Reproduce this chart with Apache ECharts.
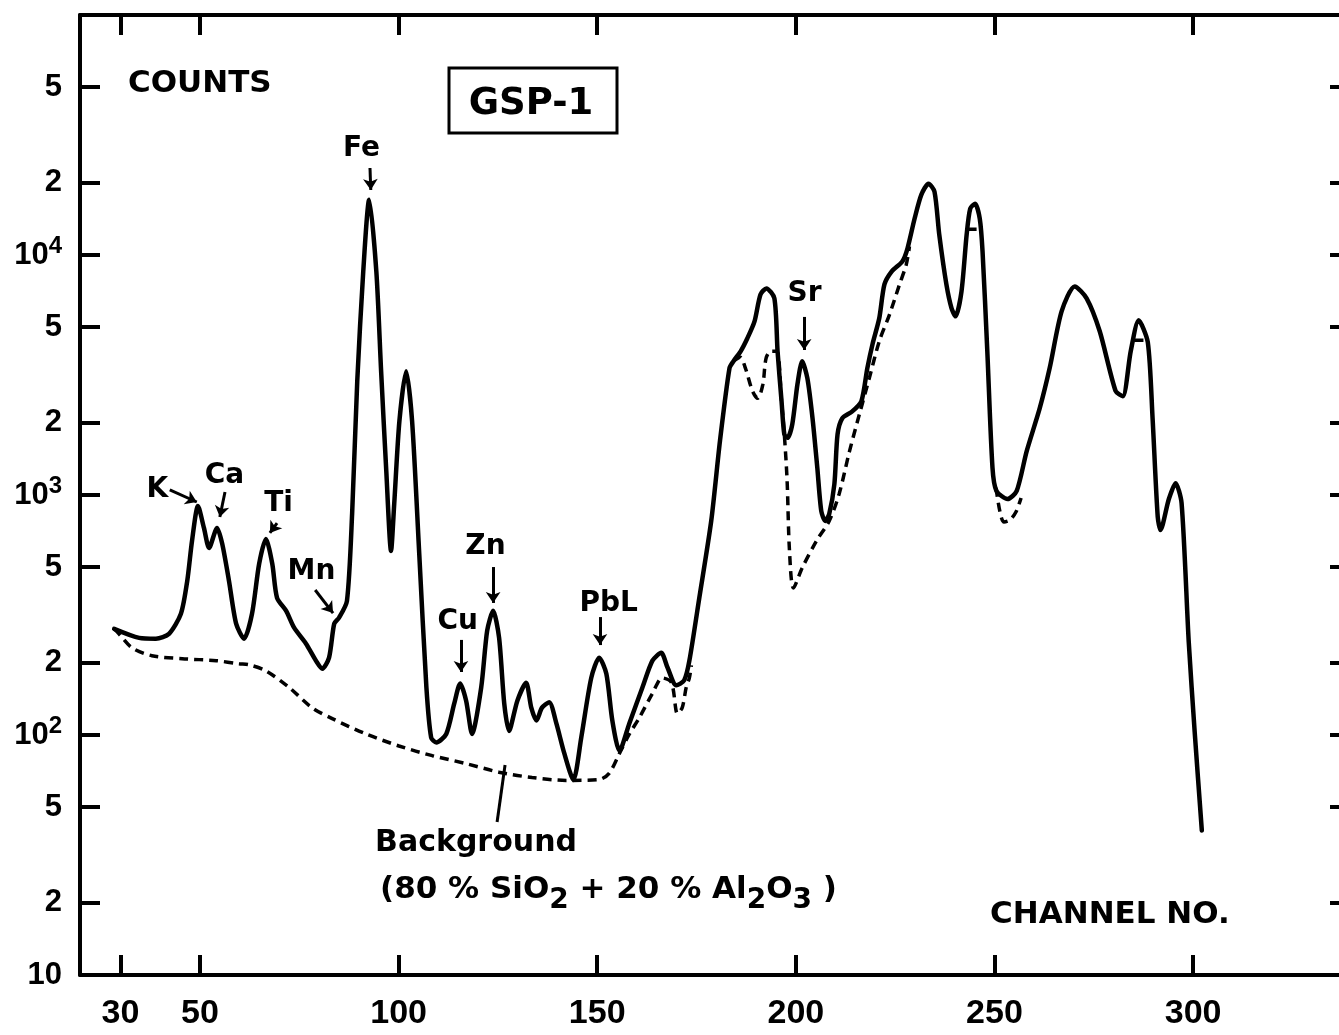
<!DOCTYPE html>
<html>
<head>
<meta charset="utf-8">
<title>GSP-1 X-ray fluorescence spectrum</title>
<script src="https://cdn.jsdelivr.net/npm/echarts@6/dist/echarts.min.js"></script>
<style>
  html, body { margin: 0; padding: 0; background: #fff; }
  #chart { width: 1339px; height: 1035px; }
</style>
</head>
<body>
<div id="chart"></div>
<script>
// Channel ticks (bottom and top edges)
const xTicks = [30, 50, 100, 150, 200, 250, 300];
// Count ticks on the log axis and the printed labels ("^" marks a power of ten)
const yTicks = [10, 20, 50, 100, 200, 500, 1000, 2000, 5000, 10000, 20000, 50000];
const yTickText = ['10', '2', '5', '10^2', '2', '5', '10^3', '2', '5', '10^4', '2', '5'];

// Measured spectrum of GSP-1: [channel, counts]
const spectrum = [
  [28.4, 277], [34.7, 254], [38.9, 252], [42.2, 264], [45.2, 320], [46.8, 439],
  [48.0, 644], [49.5, 900], [51.0, 729], [52.3, 602], [54.3, 729], [55.6, 626],
  [57.3, 439], [59.1, 291], [61.1, 252], [63.1, 320], [64.9, 517], [66.6, 656],
  [68.2, 517], [69.4, 373], [71.7, 329], [73.7, 280], [76.7, 240], [79.2, 204],
  [80.8, 189], [82.5, 210], [83.8, 291], [85.0, 308], [87.0, 362], [88.3, 834],
  [89.6, 3000], [91.1, 8530], [92.6, 17000], [94.4, 8530], [95.6, 3280], [96.9, 1260],
  [98.1, 585], [98.9, 918], [100.2, 2030], [101.9, 3280], [103.4, 2030], [105.2, 568],
  [107.0, 158], [108.2, 97.6], [109.5, 93.1], [112.0, 101], [114.0, 135],
  [115.5, 164], [117.0, 139], [118.5, 101], [120.8, 158], [122.3, 272], [123.8, 329],
  [125.3, 254], [126.6, 135], [127.8, 104], [129.9, 139], [132.1, 165], [133.4, 130],
  [134.7, 115], [136.1, 130], [137.9, 137], [139.7, 112], [141.7, 84], [144.0, 65],
  [146.0, 98], [148.5, 173], [150.5, 210], [152.3, 180], [153.8, 115], [155.6, 86],
  [158.1, 112], [161.4, 158], [163.9, 204], [166.1, 220], [167.7, 191], [169.9, 161],
  [171.9, 169], [173.2, 204], [175.7, 373], [178.7, 780], [180.9, 1680], [183.3, 3380],
  [184.3, 3610], [186.1, 3970], [187.8, 4500], [189.6, 5290], [191.1, 6850], [192.6, 7260],
  [194.6, 6600], [195.4, 3970], [196.4, 2460], [197.1, 1790], [197.9, 1730], [199.1, 1970],
  [200.4, 2890], [201.6, 3610], [202.9, 3070], [204.2, 2090], [205.4, 1300], [206.4, 858],
  [207.4, 780], [208.4, 834], [209.7, 1110], [210.5, 1790], [211.7, 2090], [214.2, 2230],
  [216.5, 2460], [218.0, 3380], [219.3, 4250], [221.0, 5450], [222.3, 7540], [224.1, 8530],
  [226.8, 9400], [228.1, 10640], [229.9, 14190], [231.6, 17850], [233.4, 19820], [234.9, 18370],
  [236.1, 12170], [237.9, 7540], [239.2, 5990], [240.2, 5550], [241.7, 7050], [243.0, 12170],
  [243.9, 15600], [245.1, 16370], [246.3, 14190], [247.0, 10350], [248.2, 3970], [249.5, 1300],
  [250.5, 1040], [253.3, 962], [255.6, 1040], [258.1, 1520], [261.4, 2300], [263.9, 3380],
  [266.9, 5820], [270.2, 7400], [273.2, 6600], [276.5, 4810], [280.5, 2710], [282.3, 2580],
  [284.3, 3970], [286.3, 5350], [288.6, 4330], [289.8, 2090], [291.1, 810], [291.8, 715],
  [293.9, 962], [295.6, 1120], [297.1, 926], [298.9, 245], [300.4, 103], [302.2, 40]
];

// Background (80% SiO2 + 20% Al2O3), only where it leaves the sample curve
const bgLow = [
  [28.4, 277], [29.6, 264], [32.9, 231], [37.9, 214], [45.5, 208], [54.1, 204],
  [59.8, 198], [62.4, 196], [66.6, 185], [72.4, 158], [78.2, 130], [83.3, 117],
  [91.8, 101], [100.1, 90], [108.5, 82], [117.0, 76], [125.3, 70], [133.6, 66.5],
  [142.2, 64.7], [150.5, 65.3], [153.0, 69.2], [155.6, 83.8], [158.1, 101], [160.6, 118],
  [163.9, 149], [166.4, 173], [168.7, 165], [170.2, 123], [171.4, 130], [172.4, 158],
  [173.2, 173], [173.7, 195]
];
const bgSr = [
  [184.3, 3610], [186.0, 3750], [187.3, 3380], [189.1, 2710], [190.4, 2530], [191.7, 2890],
  [192.5, 3710], [193.7, 3970], [195.2, 3970], [196.4, 2460], [197.1, 1790], [197.8, 1150],
  [198.4, 585], [199.4, 410], [201.6, 497], [205.2, 644], [208.4, 780], [210.9, 1010],
  [213.5, 1520], [216.0, 2170], [218.5, 3070], [221.0, 4370], [223.6, 5660], [226.1, 7540],
  [227.8, 9130], [228.6, 10840]
];
const bgCap245 = [[243.2, 12800], [246.7, 12800]];
const bgDip252 = [[250.4, 1070], [251.4, 849], [252.4, 772], [253.9, 787], [255.4, 849], [256.7, 972]];
const bgCap287 = [[285.2, 4410], [288.4, 4410]];

// Peak identifications: label anchor and arrow ends, in [channel, counts]
const peakNames = ['K', 'Ca', 'Ti', 'Mn', 'Fe', 'Cu', 'Zn', 'PbL', 'Sr'];
const peakLabelAt = [[39.4, 1050], [56.3, 1200], [69.9, 917], [78.2, 478], [90.8, 27660],
  [115.0, 296], [122.0, 607], [153.0, 351], [202.3, 6880]];
const peakArrowFrom = [[42.4, 1050], [56.3, 1029], [69.4, 764], [79.0, 402], [92.8, 23040],
  [115.7, 249], [123.8, 501], [150.7, 310], [202.1, 5520]];
const peakArrowTo = [[49.2, 935], [55.0, 810], [67.6, 695], [83.5, 322], [93.0, 18660],
  [115.7, 183], [123.8, 355], [150.7, 237], [202.1, 4020]];
// Leader from the background curve down to its caption
const bgLeader = [[126.8, 75], [124.8, 43.4]];

const TEXT_FONT = '"DejaVu Sans", sans-serif';
const NUM_FONT = '"Liberation Sans", Arial, sans-serif';
const INK = '#000';

function yLabel(v) {
  const i = yTicks.findIndex(t => Math.abs(t - v) / t < 1e-6);
  if (i < 0) return '';
  const parts = yTickText[i].split('^');
  return parts.length > 1 ? parts[0] + '{sup|' + parts[1] + '}' : parts[0];
}

const axisLine = { show: true, onZero: false, lineStyle: { color: INK, width: 4 } };
const tick = (values) => ({ show: true, inside: true, length: 20, customValues: values,
  lineStyle: { color: INK, width: 4 } });

const bgStyle = { color: INK, width: 3.5, type: [9, 6], cap: 'butt' };
const bgSeries = (data) => ({
  type: 'line', data, xAxisIndex: 0, yAxisIndex: 0, showSymbol: false, symbol: 'none',
  smooth: 0.3, lineStyle: bgStyle, z: 2, silent: true, emphasis: { disabled: true }
});

const chart = echarts.init(document.getElementById('chart'), null, { renderer: 'canvas' });
chart.setOption({
  backgroundColor: '#fff',
  animation: false,
  grid: { left: 80, right: -11, top: 15, bottom: 60, containLabel: false, outerBoundsMode: 'none' },
  xAxis: [
    {
      type: 'value', min: 19.8, max: 339.5, position: 'bottom',
      axisLine, axisTick: tick(xTicks), splitLine: { show: false },
      axisLabel: { show: true, customValues: xTicks, color: INK, fontFamily: NUM_FONT,
        fontWeight: 'bold', fontSize: 34, margin: 22 }
    },
    {
      type: 'value', min: 19.8, max: 339.5, position: 'top',
      axisLine, axisTick: tick(xTicks), splitLine: { show: false }, axisLabel: { show: false }
    }
  ],
  yAxis: [
    {
      type: 'log', logBase: 10, min: 10, max: 100000, position: 'left',
      axisLine, axisTick: tick(yTicks), splitLine: { show: false },
      axisLabel: {
        show: true, customValues: yTicks, formatter: yLabel, color: INK,
        fontFamily: NUM_FONT, fontWeight: 'bold', fontSize: 31, margin: 18,
        rich: { sup: { fontFamily: NUM_FONT, fontWeight: 'bold', fontSize: 24, color: INK,
          padding: [0, 0, 18, 0] } }
      }
    },
    {
      type: 'log', logBase: 10, min: 10, max: 100000, position: 'right',
      axisLine, axisTick: tick(yTicks), splitLine: { show: false }, axisLabel: { show: false }
    }
  ],
  series: [
    bgSeries(bgLow), bgSeries(bgSr), bgSeries(bgCap245), bgSeries(bgDip252), bgSeries(bgCap287),
    {
      type: 'line', name: 'GSP-1', data: spectrum, showSymbol: false, symbol: 'none',
      smooth: 0.25, lineStyle: { color: INK, width: 4.5, cap: 'round', join: 'round' },
      z: 3, silent: true, emphasis: { disabled: true }
    },
    {
      type: 'scatter', name: 'peaks', z: 4, silent: true,
      data: peakLabelAt.map((p, i) => [p[0], p[1], peakNames[i]]),
      symbol: 'circle', symbolSize: 1, itemStyle: { color: 'rgba(0,0,0,0)' },
      label: { show: true, position: [0, 0], align: 'center', verticalAlign: 'middle',
        formatter: p => p.data[2], color: INK, opacity: 1, textBorderWidth: 0,
        fontFamily: TEXT_FONT, fontWeight: 'bold', fontSize: 28 },
      emphasis: { disabled: true },
      markLine: {
        silent: true, animation: false, symbol: ['none', 'arrow'], symbolSize: 11,
        label: { show: false }, emphasis: { disabled: true },
        lineStyle: { color: INK, width: 3, type: 'solid' },
        data: peakArrowFrom.map((f, i) => [{ coord: f }, { coord: peakArrowTo[i] }])
          .concat([[{ coord: bgLeader[0], symbol: 'none' }, { coord: bgLeader[1], symbol: 'none' }]])
      }
    }
  ],
  graphic: [
    { type: 'text', z: 10, style: { x: 128, y: 84, text: 'COUNTS', align: 'left', verticalAlign: 'middle',
      fontFamily: TEXT_FONT, fontWeight: 'bold', fontSize: 31, fill: INK } },
    { type: 'text', z: 10, style: { x: 990, y: 915, text: 'CHANNEL NO.', align: 'left', verticalAlign: 'middle',
      fontFamily: TEXT_FONT, fontWeight: 'bold', fontSize: 31, fill: INK } },
    { type: 'rect', z: 10, shape: { x: 449, y: 68, width: 168, height: 65 },
      style: { fill: 'none', stroke: INK, lineWidth: 3 } },
    { type: 'text', z: 10, style: { x: 531, y: 104, text: 'GSP-1', align: 'center', verticalAlign: 'middle',
      fontFamily: TEXT_FONT, fontWeight: 'bold', fontSize: 37, fill: INK } },
    { type: 'text', z: 10, style: { x: 476, y: 843, text: 'Background', align: 'center', verticalAlign: 'middle',
      fontFamily: TEXT_FONT, fontWeight: 'bold', fontSize: 30, fill: INK } },
    { type: 'text', z: 10, style: { x: 380, y: 890, align: 'left', verticalAlign: 'middle',
      text: '(80 % SiO{sub|2} + 20 % Al{sub|2}O{sub|3} )',
      fontFamily: TEXT_FONT, fontWeight: 'bold', fontSize: 31, fill: INK,
      rich: { sub: { fontFamily: TEXT_FONT, fontWeight: 'bold', fontSize: 28, fill: INK,
        padding: [22, 0, 0, 0] } } } }
  ]
});
</script>
</body>
</html>
